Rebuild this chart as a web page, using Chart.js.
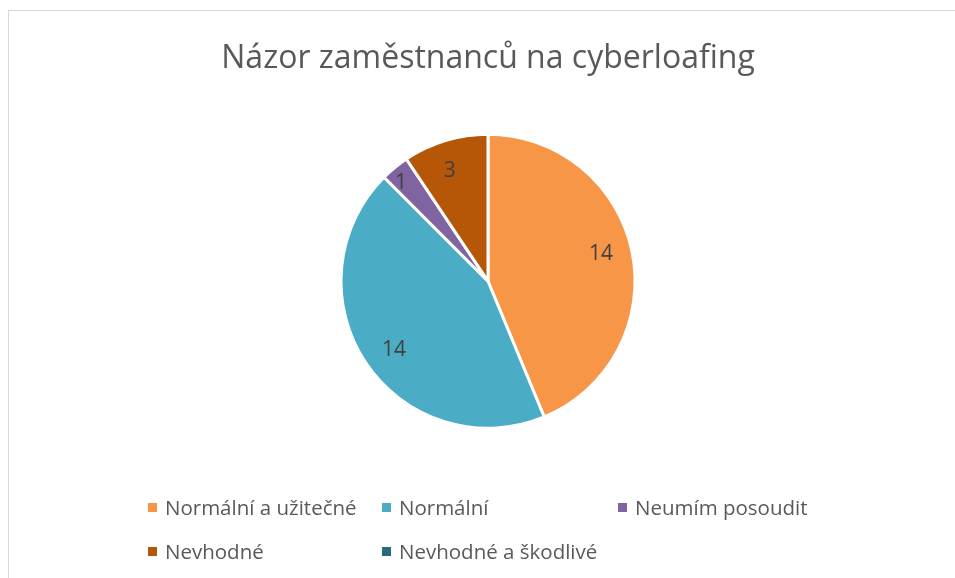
<!DOCTYPE html>
<html>
<head>
<meta charset="utf-8">
<script src="https://cdn.jsdelivr.net/npm/chart.js@4.4.1/dist/chart.umd.min.js"></script>
<style>
  body { margin: 0; background: #fff; font-family: "Open Sans", sans-serif; }
  #wrap { position: relative; width: 955px; height: 578px; overflow: hidden; }
  #frame { position: absolute; left: 8px; top: 10px; width: 960px; height: 600px; border: 1px solid #d9d9d9; box-sizing: border-box; }
  #chart1 { position: absolute; left: 0; top: 0; }
  #legend { position: absolute; left: 0; top: 0; width: 955px; height: 578px; pointer-events: none; }
  .item { position: absolute; font-size: 20.5px; color: #595959; white-space: nowrap; line-height: 20px; }
  .item span.box { position: absolute; width: 9px; height: 9px; left: -17px; top: 6px; }
</style>
</head>
<body>
<div id="wrap">
  <div id="frame"></div>
  <canvas id="chart1" width="955" height="578"></canvas>
  <div id="legend"></div>
</div>
<script>
// data
const labels = ['Normální a užitečné', 'Normální', 'Neumím posoudit', 'Nevhodné', 'Nevhodné a škodlivé'];
const counts = [14, 14, 1, 3, 0];
const colors = ['#F79646', '#4BACC6', '#8064A2', '#B65708', '#276A7C'];
const chartTitle = 'Názor zaměstnanců na cyberloafing';

// value labels inside the slices
const sliceLabels = {
    id: 'sliceLabels',
    afterDatasetsDraw(chart) {
        const ctx = chart.ctx;
        const meta = chart.getDatasetMeta(0);
        const total = counts.reduce((a, b) => a + b, 0);
        ctx.save();
        ctx.font = '21px "Open Sans"';
        ctx.fillStyle = '#404040';
        ctx.textAlign = 'center';
        ctx.textBaseline = 'middle';
        meta.data.forEach((arc, i) => {
            if (!counts[i]) return;
            const p = arc.getProps(['x', 'y', 'startAngle', 'endAngle', 'outerRadius'], true);
            const mid = (p.startAngle + p.endAngle) / 2 - 0.04;
            const f = counts[i] / total < 0.05 ? 0.89 : 0.79;
            ctx.fillText(String(counts[i]), p.x + Math.cos(mid) * p.outerRadius * f, p.y + Math.sin(mid) * p.outerRadius * f);
        });
        ctx.restore();
    }
};

const ctx1 = document.getElementById('chart1').getContext('2d');
new Chart(ctx1, {
    type: 'pie',
    data: {
        labels: labels,
        datasets: [{
            data: counts,
            backgroundColor: colors,
            borderColor: '#ffffff',
            borderWidth: 3
        }]
    },
    options: {
        responsive: false,
        animation: false,
        radius: 147,
        layout: { padding: { top: 10, left: 21, right: 0, bottom: 104 } },
        plugins: {
            legend: { display: false },
            tooltip: { enabled: false },
            title: {
                display: true,
                text: chartTitle,
                color: '#595959',
                font: { family: 'Open Sans', size: 32, weight: 'normal' },
                padding: { top: 30, bottom: 10 }
            }
        }
    },
    plugins: [sliceLabels]
});

// legend laid out in columns like the original
const legendCols = [165, 399, 635];
const legendRows = [497, 541];
const legendEl = document.getElementById('legend');
labels.forEach((name, i) => {
    const div = document.createElement('div');
    div.className = 'item';
    div.style.left = legendCols[i % 3] + 'px';
    div.style.top = legendRows[Math.floor(i / 3)] + 'px';
    div.innerHTML = '<span class="box" style="background:' + colors[i] + '"></span>' + name;
    legendEl.appendChild(div);
});
</script>
</body>
</html>
